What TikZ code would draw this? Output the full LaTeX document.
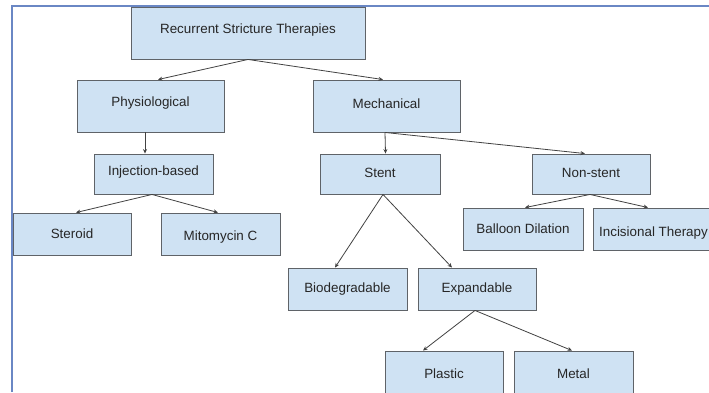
\documentclass[tikz,border=0pt]{standalone}
\usepackage{fontspec}
\setmainfont{Liberation Sans}
\usetikzlibrary{arrows.meta}
\definecolor{boxblue}{HTML}{CFE2F3}
\definecolor{boxline}{HTML}{5F6368}
\definecolor{framecol}{HTML}{6A87C4}
\definecolor{arrcol}{HTML}{424242}
\newcommand{\shiftup}[2]{\raisebox{#1}[\height][\depth]{#2}}
\tikzset{
  box/.style={draw=boxline, fill=boxblue, line width=0.9pt, inner sep=0pt,
    font=\fontsize{13.4}{16}\selectfont, text=black!85},
  arr/.style={draw=arrcol, line width=0.8pt, -{Stealth[length=4.5pt,width=4pt]}},
}
\begin{document}
\begin{tikzpicture}[x=1pt,y=-1pt]
\clip (0,0) rectangle (709,392);
\fill[white] (0,0) rectangle (709,392);
\draw[framecol, line width=2pt] (12.2,392) -- (12.2,5.6) -- (709,5.6);

\node[box, minimum width=234, minimum height=52] (root) at (248,33) {\shiftup{3pt}{Recurrent Stricture Therapies}};
\node[box, minimum width=147, minimum height=52] (phys) at (150.5,106) {\shiftup{2.5pt}{Physiological}};
\node[box, minimum width=147, minimum height=52] (mech) at (386.5,106) {\shiftup{2.5pt}{Mechanical}};
\node[box, minimum width=119, minimum height=40] (inj) at (153.5,174) {\shiftup{1.5pt}{Injection-based}};
\node[box, minimum width=120, minimum height=40] (stent) at (380,174) {\shiftup{1.5pt}{Stent}};
\node[box, minimum width=118, minimum height=40] (nonstent) at (591,174) {\shiftup{1.5pt}{Non-stent}};
\node[box, minimum width=118, minimum height=42] (steroid) at (72,234) {Steroid};
\node[box, minimum width=119, minimum height=42] (mito) at (220.5,234) {\shiftup{-3pt}{Mitomycin C}};
\node[box, minimum width=120, minimum height=42] (balloon) at (523,229) {Balloon Dilation};
\node[box, minimum width=121, minimum height=42] (incis) at (653.5,229) {\shiftup{-4pt}{Incisional Therapy}};
\node[box, minimum width=119, minimum height=42] (biode) at (347.5,289) {Biodegradable};
\node[box, minimum width=118, minimum height=42] (expand) at (477,289) {Expandable};
\node[box, minimum width=118, minimum height=42] (plastic) at (444,372) {\shiftup{-1.5pt}{Plastic}};
\node[box, minimum width=119, minimum height=42] (metal) at (573.5,372) {\shiftup{-1.5pt}{Metal}};

\draw[arr] (root.south) -- ([xshift=7.5]phys.north);
\draw[arr] (root.south) -- ([xshift=-3.5]mech.north);
\draw[arr] ([xshift=-5.5]phys.south) -- ([xshift=-8.5]inj.north);
\draw[arr] ([xshift=-1.5]mech.south) -- ([xshift=5.5]stent.north);
\draw[arr] ([xshift=-1.5]mech.south) -- ([xshift=-6]nonstent.north);
\draw[arr] ([xshift=-1.5]inj.south) -- ([xshift=4]steroid.north);
\draw[arr] ([xshift=-1.5]inj.south) -- ([xshift=-2.5]mito.north);
\draw[arr] ([xshift=3]stent.south) -- ([xshift=-12.5]biode.north);
\draw[arr] ([xshift=3]stent.south) -- ([xshift=-25]expand.north);
\draw[arr] ([xshift=-1]nonstent.south) -- ([xshift=2]balloon.north);
\draw[arr] ([xshift=-1]nonstent.south) -- ([xshift=-5.5]incis.north);
\draw[arr] ([xshift=-2]expand.south) -- ([xshift=-21]plastic.north);
\draw[arr] ([xshift=-2]expand.south) -- ([xshift=-1.5]metal.north);
\end{tikzpicture}
\end{document}
